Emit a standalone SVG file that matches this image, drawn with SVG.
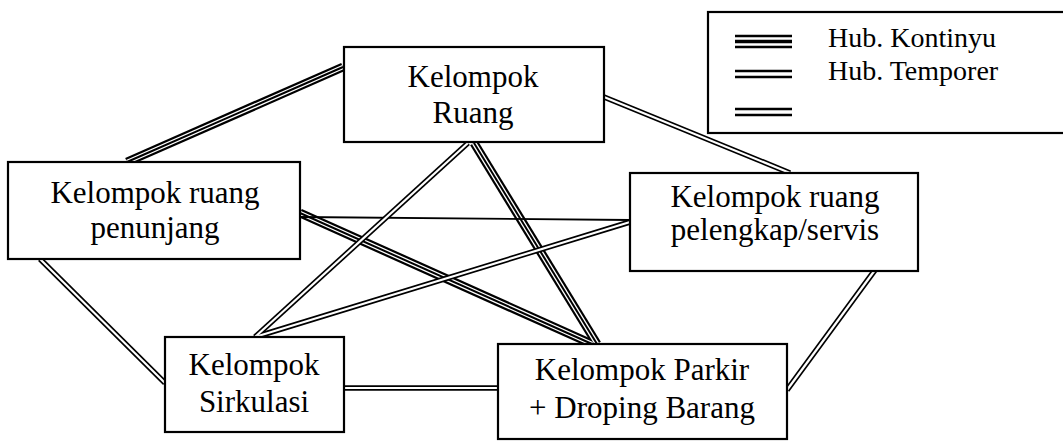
<svg xmlns="http://www.w3.org/2000/svg" xmlns:xlink="http://www.w3.org/1999/xlink" width="1063" height="443" viewBox="0 0 1063 443">
<style>
.bg{fill:#ffffff}
.box{fill:#ffffff;stroke:#000000;stroke-width:2.2}
.lbl{font-family:"Liberation Serif","Times New Roman",serif;font-size:31px;fill:#000000;text-anchor:middle}
.leg{font-family:"Liberation Serif","Times New Roman",serif;font-size:28px;fill:#000000}
.k-out{fill:none;stroke:#000000;stroke-width:9;stroke-linecap:butt}
.k-gap{fill:none;stroke:#ffffff;stroke-width:4.6;stroke-linecap:butt}
.k-mid{fill:none;stroke:#000000;stroke-width:2;stroke-linecap:butt}
.d-out{fill:none;stroke:#000000;stroke-width:5.5;stroke-linecap:butt}
.d-gap{fill:none;stroke:#ffffff;stroke-width:2.2;stroke-linecap:butt}
.s-line{fill:none;stroke:#000000;stroke-width:1.8}
.legline{stroke:#000000;fill:none}
</style>
<rect class="bg" x="0" y="0" width="1063" height="443"/>
<g id="connectors">
  <g class="k-out">
    <path id="c1" d="M343,67 L127,162"/>
    <path id="c3" d="M474,143 L597,344"/>
    <path id="c5" d="M300,213 L592,344"/>
  </g>
  <g class="k-gap">
    <use xlink:href="#c1" href="#c1"/>
    <use xlink:href="#c3" href="#c3"/>
    <use xlink:href="#c5" href="#c5"/>
  </g>
  <g class="k-mid">
    <use xlink:href="#c1" href="#c1"/>
    <use xlink:href="#c3" href="#c3"/>
    <use xlink:href="#c5" href="#c5"/>
  </g>
  <path class="s-line" d="M300,217 L630,220"/>
  <g class="d-out">
    <path id="c2" d="M604,97 L790,173"/>
    <path id="c4" d="M468,143 L255,337"/>
    <path id="c7" d="M630,222 L255,337"/>
    <path id="c8" d="M40,259 L165,383"/>
    <path id="c9" d="M344,388 L498,388"/>
    <path id="c10" d="M875,270 L787,390"/>
  </g>
  <g class="d-gap">
    <use xlink:href="#c2" href="#c2"/>
    <use xlink:href="#c4" href="#c4"/>
    <use xlink:href="#c7" href="#c7"/>
    <use xlink:href="#c8" href="#c8"/>
    <use xlink:href="#c9" href="#c9"/>
    <use xlink:href="#c10" href="#c10"/>
  </g>
</g>
<g id="node-ruang">
  <rect class="box" x="344" y="47" width="260" height="95"/>
  <text class="lbl" x="473" y="87">Kelompok</text>
  <text class="lbl" x="473" y="123">Ruang</text>
</g>
<g id="node-penunjang">
  <rect class="box" x="8" y="162" width="292" height="97"/>
  <text class="lbl" x="155" y="203">Kelompok ruang</text>
  <text class="lbl" x="155" y="238">penunjang</text>
</g>
<g id="node-pelengkap">
  <rect class="box" x="630" y="173" width="288" height="98"/>
  <text class="lbl" x="775" y="207">Kelompok ruang</text>
  <text class="lbl" x="775" y="240">pelengkap/servis</text>
</g>
<g id="node-sirkulasi">
  <rect class="box" x="165" y="337" width="179" height="95"/>
  <text class="lbl" x="254" y="375">Kelompok</text>
  <text class="lbl" x="254" y="412">Sirkulasi</text>
</g>
<g id="node-parkir">
  <rect class="box" x="498" y="344" width="289" height="95"/>
  <text class="lbl" x="642" y="380">Kelompok Parkir</text>
  <text class="lbl" x="642" y="418">+ Droping Barang</text>
</g>
<g id="legend">
  <rect class="box" x="708" y="12" width="370" height="121"/>
  <line class="legline" x1="735" y1="36" x2="792" y2="36" stroke-width="2.5"/>
  <line class="legline" x1="735" y1="41.5" x2="792" y2="41.5" stroke-width="3.5"/>
  <line class="legline" x1="735" y1="47" x2="792" y2="47" stroke-width="2.5"/>
  <line class="legline" x1="735" y1="71" x2="792" y2="71" stroke-width="2.5"/>
  <line class="legline" x1="735" y1="77" x2="792" y2="77" stroke-width="2.5"/>
  <line class="legline" x1="735" y1="109" x2="792" y2="109" stroke-width="2.5"/>
  <line class="legline" x1="735" y1="115" x2="792" y2="115" stroke-width="2.5"/>
  <text class="leg" x="828" y="47">Hub. Kontinyu</text>
  <text class="leg" x="828" y="80">Hub. Temporer</text>
</g>
</svg>
